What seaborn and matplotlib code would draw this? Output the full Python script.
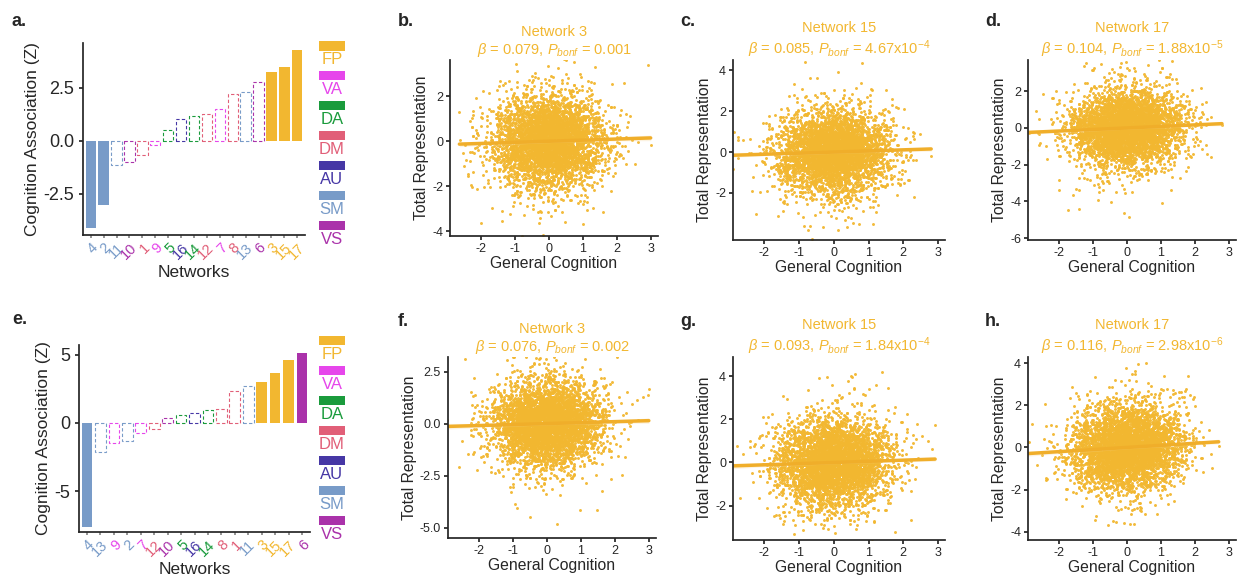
import numpy as np
import pandas as pd
import matplotlib
matplotlib.use("Agg")
import matplotlib.pyplot as plt
import seaborn as sns

sns.set_theme(style="ticks")
plt.rcParams['font.family'] = ['Liberation Sans', 'DejaVu Sans']
plt.rcParams['mathtext.fontset'] = 'custom'
plt.rcParams['mathtext.rm'] = 'Liberation Sans'
plt.rcParams['mathtext.it'] = 'Liberation Sans:italic'

# ---------------- data ----------------
systems = ['FP', 'VA', 'DA', 'DM', 'AU', 'SM', 'VS']
system_colors = ['#F2B730', '#E646EB', '#1A9B3C', '#E15F78', '#4637A5', '#789BC8', '#AA32AA']
net_system = {1: 'DM', 2: 'SM', 3: 'FP', 4: 'SM', 5: 'DA', 6: 'VS', 7: 'VA', 8: 'DM', 9: 'VA',
              10: 'VS', 11: 'SM', 12: 'DM', 13: 'SM', 14: 'DA', 15: 'FP', 16: 'AU', 17: 'FP'}

a_networks = [4, 2, 11, 10, 1, 9, 5, 16, 14, 12, 7, 8, 13, 6, 3, 15, 17]
a_values = [-4.11, -3.03, -1.13, -1.00, -0.70, -0.19, 0.51, 1.04, 1.15, 1.23, 1.51, 2.21, 2.31, 2.74, 3.23, 3.49, 4.25]
a_significant = [4, 2, 3, 15, 17]

e_networks = [4, 13, 9, 2, 7, 12, 10, 5, 16, 14, 8, 1, 11, 3, 15, 17, 6]
e_values = [-7.62, -2.15, -1.49, -1.36, -0.74, -0.45, 0.32, 0.54, 0.69, 0.94, 1.01, 2.35, 2.72, 3.02, 3.66, 4.58, 5.12]
e_significant = [4, 3, 15, 17, 6]

scatter_letters = ['b.', 'c.', 'd.', 'f.', 'g.', 'h.']
scatter_networks = [3, 15, 17, 3, 15, 17]
scatter_betas = [0.079, 0.085, 0.104, 0.076, 0.093, 0.116]
scatter_pvals = ['0.001', '4.67x10$^{-4}$', '1.88x10$^{-5}$', '0.002', '1.84x10$^{-4}$', '2.98x10$^{-6}$']
# fitted-line slopes as drawn in the plotted units
line_slopes = [0.049, 0.054, 0.084, 0.047, 0.054, 0.100]
scatter_ylims = [(-4.2, 3.6), (-4.3, 4.5), (-6.1, 3.7), (-5.5, 3.2), (-3.6, 4.9), (-4.4, 4.3)]
scatter_yticks = [[-4, -2, 0, 2], [-2, 0, 2, 4], [-6, -4, -2, 0, 2],
                  [-5.0, -2.5, 0.0, 2.5], [-2, 0, 2, 4], [-4, -2, 0, 2, 4]]
scatter_xticks = [-2, -1, 0, 1, 2, 3]
n_subjects = 4200

FP_COLOR = '#F2B730'

fig = plt.figure(figsize=(12.38, 5.75), dpi=100)
W, H = 1238, 575


def fax(l, r, b, t):
    return fig.add_axes([l / W, 1 - b / H, (r - l) / W, (b - t) / H])


def bar_panel(ax, nets, vals, sig, yticks, ylabels, ylim):
    df = pd.DataFrame({'net': [str(n) for n in nets], 'val': vals})
    sns.barplot(data=df, x='net', y='val', color='white', width=0.8, ax=ax, order=df['net'])
    for patch, n in zip(ax.patches, nets):
        c = system_colors[systems.index(net_system[n])]
        if n in sig:
            patch.set_facecolor(c)
            patch.set_edgecolor(c)
            patch.set_linewidth(0)
        else:
            patch.set_facecolor('none')
            patch.set_edgecolor(c)
            patch.set_linestyle((0, (3, 2)))
            patch.set_linewidth(0.8)
    ax.set_ylim(*ylim)
    ax.set_yticks(yticks)
    ax.set_yticklabels(ylabels, fontsize=13)
    ax.set_xlim(-0.6, len(nets) - 0.4)
    ax.set_xticks(range(len(nets)))
    ax.set_xticklabels([str(n) for n in nets], rotation=45, ha='right',
                       rotation_mode='anchor', fontsize=10.5)
    for lab, n in zip(ax.get_xticklabels(), nets):
        lab.set_color(system_colors[systems.index(net_system[n])])
    ax.tick_params(axis='x', length=2, color='#888888', pad=2)
    ax.tick_params(axis='y', length=3)
    ax.set_xlabel('Networks', fontsize=12.5, labelpad=2)
    ax.set_ylabel('Cognition Association (Z)', fontsize=12.5, labelpad=2)
    sns.despine(ax=ax)


def legend_panel(ax):
    ax.set_xlim(0, 1)
    ax.set_ylim(len(systems), 0)
    ax.axis('off')
    for i, (s, c) in enumerate(zip(systems, system_colors)):
        ax.add_patch(plt.Rectangle((0.0, i + 0.02), 1.0, 0.33, color=c, lw=0))
        ax.text(0.5, i + 0.40, s, color=c, fontsize=12, ha='center', va='top')


# row 1 bar panel
ax_a = fax(83, 305, 235, 43)
bar_panel(ax_a, a_networks, a_values, a_significant, [-2.5, 0.0, 2.5], ['-2.5', '0.0', '2.5'], (-4.45, 4.6))
ax_la = fax(319, 345, 250, 40)
legend_panel(ax_la)

# row 2 bar panel
ax_e = fax(79, 310, 532, 345)
bar_panel(ax_e, e_networks, e_values, e_significant, [-5, 0, 5], ['-5', '0', '5'], (-8.0, 5.7))
ax_le = fax(319, 345, 545, 335)
legend_panel(ax_le)

fig.text(12 / W, 1 - 22 / H, 'a.', fontsize=13, fontweight='bold', va='center')
fig.text(12 / W, 1 - 320 / H, 'e.', fontsize=13, fontweight='bold', va='center')

# scatter panels
boxes = [(450, 658, 236, 60), (733, 945, 240, 60), (1028, 1236, 240, 60),
         (448, 656, 538, 357), (733, 945, 540, 357), (1028, 1236, 540, 357)]
letter_pos = [(398, 22), (680, 22), (985, 22), (398, 322), (680, 322), (985, 322)]

rng = np.random.default_rng(11)
for i in range(6):
    ax = fax(*boxes[i])
    x = rng.normal(0.0, 0.8, n_subjects)
    noise = rng.standard_t(12, n_subjects) * 0.95
    xc = x - x.mean()
    noise = noise - noise.mean() - xc * (xc @ noise) / (xc @ xc)
    y = line_slopes[i] * x + noise
    df = pd.DataFrame({'General Cognition': x, 'Total Representation': y})
    sns.scatterplot(data=df, x='General Cognition', y='Total Representation', ax=ax,
                    color=FP_COLOR, s=4.5, linewidth=0, alpha=0.95)
    sns.regplot(data=df, x='General Cognition', y='Total Representation', ax=ax,
                scatter=False, color='#F0AE2A', line_kws={'lw': 2.5}, n_boot=200, truncate=True)
    ax.set_xlim(-2.9, 3.2)
    ax.set_ylim(*scatter_ylims[i])
    ax.set_xticks(scatter_xticks)
    ax.set_xticklabels([str(t) for t in scatter_xticks])
    ax.set_yticks(scatter_yticks[i])
    if i == 3:
        ax.set_yticklabels(['-5.0', '-2.5', '0.0', '2.5'])
    else:
        ax.set_yticklabels([str(int(t)) for t in scatter_yticks[i]])
    ax.tick_params(labelsize=9, length=3, pad=2)
    ax.set_xlabel('General Cognition', fontsize=11.3, labelpad=1)
    ax.set_ylabel('Total Representation', fontsize=11.3, labelpad=2)
    sns.despine(ax=ax)
    title = ('Network %d\n' % scatter_networks[i] +
             r'$\beta$ = %.3f, $P_{bonf}$ = %s' % (scatter_betas[i], scatter_pvals[i]))
    ax.set_title(title, color=FP_COLOR, fontsize=10.5, linespacing=1.2, pad=4)
    lx, ly = letter_pos[i]
    fig.text(lx / W, 1 - ly / H, scatter_letters[i], fontsize=13, fontweight='bold', va='center')

fig.savefig('out.png', dpi=100)
